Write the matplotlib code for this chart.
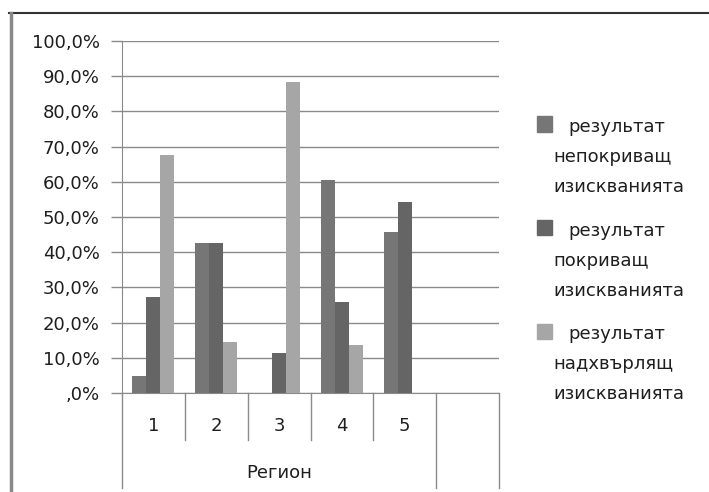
import matplotlib
matplotlib.use("Agg")
import matplotlib.pyplot as plt
from matplotlib.lines import Line2D
from matplotlib.patches import Rectangle
import numpy as np

plt.rcParams['font.family'] = ['DejaVu Sans']

categories = ['1', '2', '3', '4', '5', '']
group_label = 'Регион'
series_names = ['результат\nнепокриващ\nизискванията',
                'результат\nпокриващ\nизискванията',
                'результат\nнадхвърлящ\nизискванията']
series_values = [
    [0.048, 0.427, 0.0, 0.605, 0.456, 0.0],
    [0.274, 0.427, 0.115, 0.258, 0.542, 0.0],
    [0.676, 0.146, 0.883, 0.135, 0.0, 0.0],
]
series_colors = ['#767676', '#656565', '#a6a6a6']
yticks = np.arange(0, 1.01, 0.1)
ytick_labels = ['100,0%' if t > 0.99 else (',0%' if t < 0.01 else f'{t*100:.1f}%'.replace('.', ',')) for t in yticks]

W, H = 709, 492
FS = 13
TXT = '#1e1e1e'
fig = plt.figure(figsize=(W / 100, H / 100), dpi=100)
ax = fig.add_axes([122 / W, 1 - 393 / H, (499 - 122) / W, (393 - 41) / H])

grid_c = '#8a8a8a'
x = np.arange(len(categories))
bw = 0.223
for i, (vals, col) in enumerate(zip(series_values, series_colors)):
    ax.bar(x + (i - 1) * bw, vals, width=bw, color=col, linewidth=0, zorder=3)

ax.set_xlim(-0.5, len(categories) - 0.5)
ax.set_ylim(0, 1)
ax.set_yticks(yticks)
ax.set_yticklabels(ytick_labels, fontsize=FS, color=TXT)
ax.yaxis.grid(True, color=grid_c, linewidth=1, zorder=0)
ax.tick_params(axis='y', length=8, color=grid_c, width=1, pad=8)
ax.tick_params(axis='x', length=0, labelbottom=False)
for s in ['top', 'right']:
    ax.spines[s].set_visible(False)
ax.spines['left'].set_color(grid_c)
ax.spines['bottom'].set_color(grid_c)

# two-level category axis
trans = ax.get_xaxis_transform()
ah = 393 - 41
short = -47 / ah
long_ = -95 / ah
for k in range(len(categories) + 1):
    b = k - 0.5
    low = long_ if k in (0, 5, 6) else short
    ax.add_line(Line2D([b, b], [0, low], transform=trans, color=grid_c,
                       linewidth=1, clip_on=False))
for xi, lab in zip(x, categories):
    ax.text(xi, -33 / ah, lab, transform=trans, ha='center', va='center',
            fontsize=FS, color=TXT)
ax.text(2, -80 / ah, group_label, transform=trans, ha='center', va='center',
        fontsize=FS, color=TXT)

# legend
for i, (name, col) in enumerate(zip(series_names, series_colors)):
    base = 132 + i * 103.5
    fig.patches.append(Rectangle((537 / W, 1 - (base - 0.5) / H), 15 / W, 15 / H,
                                 transform=fig.transFigure, color=col))
    for j, line in enumerate(name.split('\n')):
        fig.text((568 if j == 0 else 553) / W, 1 - (base + 30 * j) / H, line,
                 ha='left', va='baseline', fontsize=FS, color=TXT)

# outer frame
fig.add_artist(Line2D([9 / W, 708 / W], [1 - 13 / H, 1 - 13 / H],
                      transform=fig.transFigure, color='#333333', linewidth=1.5))
fig.add_artist(Line2D([11 / W, 11 / W], [1 - 13 / H, 0],
                      transform=fig.transFigure, color='#888888', linewidth=2.5))

fig.savefig('out.png', dpi=100)
